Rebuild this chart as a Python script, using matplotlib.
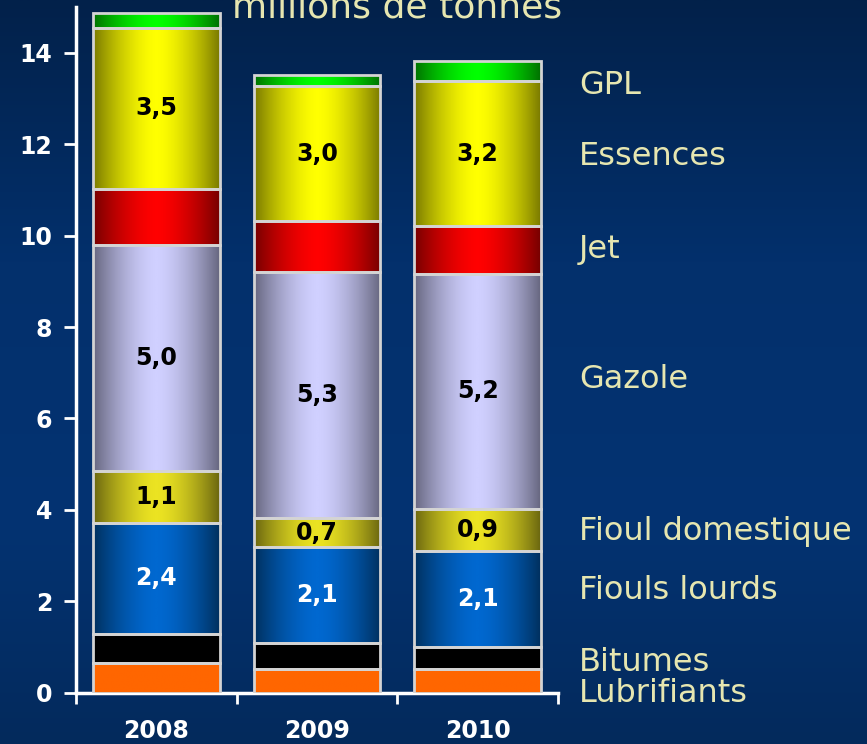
import numpy as np
import matplotlib
matplotlib.use('Agg')
import matplotlib.pyplot as plt
import matplotlib.transforms as mtransforms
from matplotlib.colors import LinearSegmentedColormap

# data (millions de tonnes), bottom to top
years = ['2008', '2009', '2010']
products = ['Lubrifiants', 'Bitumes', 'Fiouls lourds', 'Fioul domestique',
            'Gazole', 'Jet', 'Essences', 'GPL']
lubrifiants = [0.66, 0.52, 0.52]
bitumes = [0.63, 0.58, 0.48]
fiouls_lourds = [2.43, 2.09, 2.10]
fioul_domestique = [1.14, 0.63, 0.92]
gazole = [4.94, 5.38, 5.15]
jet = [1.23, 1.11, 1.03]
essences = [3.52, 2.97, 3.19]
gpl = [0.31, 0.24, 0.43]
series = [lubrifiants, bitumes, fiouls_lourds, fioul_domestique, gazole, jet, essences, gpl]

# value labels printed inside some segments
seg_labels = {
    'Fiouls lourds': ['2,4', '2,1', '2,1'],
    'Fioul domestique': ['1,1', '0,7', '0,9'],
    'Gazole': ['5,0', '5,3', '5,2'],
    'Essences': ['3,5', '3,0', '3,2'],
}

# (edge colour, centre colour) for the cylinder shading
shades = {
    'Lubrifiants': ('#ff6600', '#ff6600'),
    'Bitumes': ('#000000', '#000000'),
    'Fiouls lourds': ('#00305e', '#0068d0'),
    'Fioul domestique': ('#6a6610', '#ebe322'),
    'Gazole': ('#66667f', '#d0d0ff'),
    'Jet': ('#760000', '#ff0000'),
    'Essences': ('#7a7a00', '#ffff00'),
    'GPL': ('#007000', '#00ff00'),
}
label_colors = {'Fiouls lourds': 'white'}

# y positions (data units) of the names on the right
name_y = [-0.02, 0.67, 2.24, 3.53, 6.85, 9.69, 11.72, 13.28]

fig = plt.figure(figsize=(8.67, 7.44), dpi=100)

# background gradient
bg = fig.add_axes([0, 0, 1, 1], zorder=-10)
bg_cmap = LinearSegmentedColormap.from_list(
    'bg', [(0, '#032a5c'), (0.3, '#043372'), (0.65, '#03306c'), (1, '#02214a')])
bg.imshow(np.linspace(0, 1, 256).reshape(-1, 1), cmap=bg_cmap, aspect='auto',
          origin='lower', extent=[0, 1, 0, 1])
bg.set_axis_off()

ax = fig.add_axes([76 / 867, 1 - 692.8 / 744, 482 / 867, 685.8 / 744])
ax.set_facecolor('none')

x = np.arange(len(years))
u = np.linspace(-1, 1, 200)
profile = (1 - np.abs(u) ** 1.6).reshape(1, -1)

bottom = np.zeros(len(years))
for name, vals in zip(products, series):
    edge_c, centre_c = shades[name]
    bars = ax.bar(x, vals, width=0.79, bottom=bottom, color=centre_c,
                  edgecolor='none', zorder=3)
    cmap = LinearSegmentedColormap.from_list(name, [edge_c, centre_c])
    for p in bars.patches:
        bb = p.get_bbox()
        im = ax.imshow(profile, cmap=cmap, vmin=0, vmax=1, aspect='auto',
                       extent=[bb.x0, bb.x1, bb.y0, bb.y1], zorder=3.5,
                       interpolation='bilinear')
        im.set_clip_path(p)
    ax.bar(x, vals, width=0.79, bottom=bottom, fill=False,
           edgecolor='#d4d4d4', linewidth=2, zorder=4)
    if name in seg_labels:
        for xi, b, v, s in zip(x, bottom, vals, seg_labels[name]):
            ax.text(xi, b + v / 2, s, ha='center', va='center',
                    fontsize=17, fontweight='bold', family='DejaVu Sans',
                    color=label_colors.get(name, 'black'), zorder=5)
    bottom = bottom + np.array(vals)

ax.set_xlim(-0.5, 2.5)
ax.set_ylim(0, 15)

ax.set_yticks([0, 2, 4, 6, 8, 10, 12, 14])
ax.set_xticks(x)
ax.set_xticklabels(years)
ax.set_xticks([-0.5, 0.5, 1.5, 2.5], minor=True)
ax.tick_params(axis='x', which='major', length=0, pad=19)
ax.tick_params(axis='x', which='minor', length=8, width=2, color='white',
               direction='out')
ax.tick_params(axis='y', which='major', length=9, width=2, color='white',
               direction='out', pad=8)
for lab in ax.get_xticklabels() + ax.get_yticklabels():
    lab.set_color('white')
    lab.set_fontweight('bold')
    lab.set_fontsize(17)
    lab.set_family('DejaVu Sans')

for side in ['top', 'right']:
    ax.spines[side].set_visible(False)
for side in ['left', 'bottom']:
    ax.spines[side].set_color('white')
    ax.spines[side].set_linewidth(2.5)

# names on the right
trans = mtransforms.blended_transform_factory(fig.transFigure, ax.transData)
for name, yy in zip(products, name_y):
    ax.text(579 / 867, yy, name, transform=trans, ha='left', va='center',
            fontsize=23, color='#e6e6b0', family='DejaVu Sans', clip_on=False)

fig.text(232 / 867, 1 - 17 / 744, 'millions de tonnes', ha='left',
         va='baseline', fontsize=26, color='#e6e6b0', family='DejaVu Sans')

fig.savefig('out.png', dpi=100)
